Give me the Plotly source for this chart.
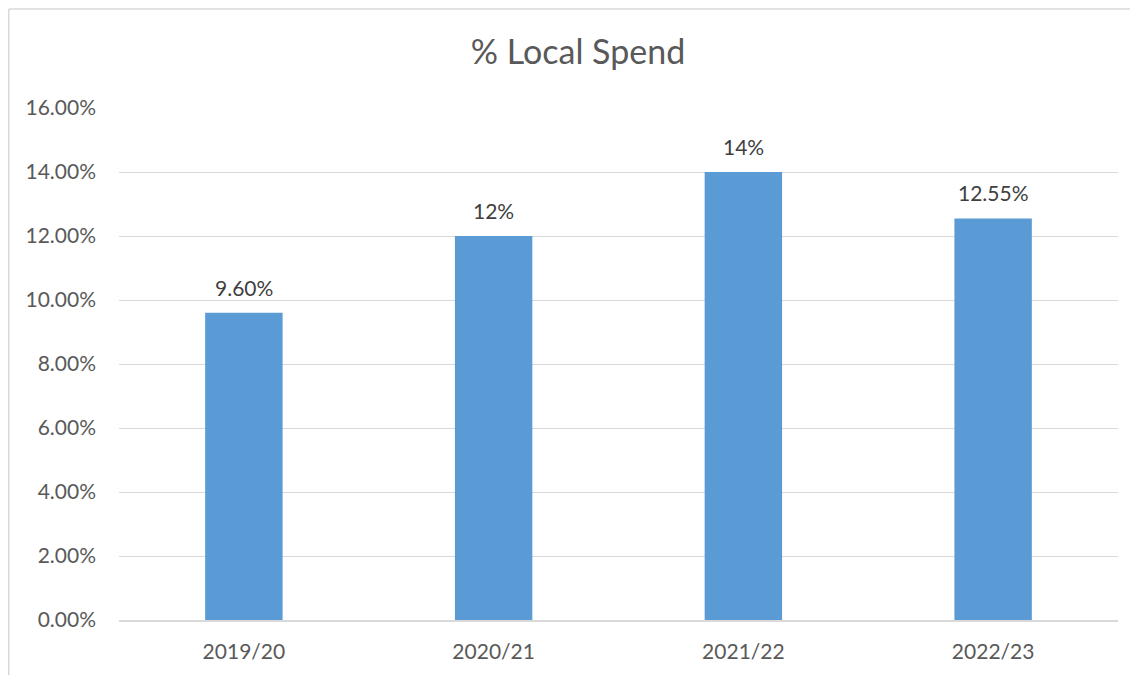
import plotly.graph_objects as go

categories = ["2019/20", "2020/21", "2021/22", "2022/23"]
values = [0.096, 0.12, 0.14, 0.1255]
labels = ["9.60%", "12%", "14%", "12.55%"]
y_ticks = [0, 0.02, 0.04, 0.06, 0.08, 0.10, 0.12, 0.14, 0.16]

FONT = "Lato"
fig = go.Figure(go.Bar(
    x=categories, y=values,
    marker=dict(color="#5b9bd5", line=dict(width=0)),
    width=0.31, hoverinfo="skip",
))

for c, v, t in zip(categories, values, labels):
    fig.add_annotation(x=c, y=v, text=t, showarrow=False, yanchor="bottom", yshift=11,
                       font=dict(family=FONT, size=21, color="#404040"))

# page body offset of 8px is compensated in the margins
W, H = 1138, 675
L, R, T, B = 111, 28, 100, 63
pw, ph = W - L - R, H - T - B

bx = (0.75 - L) / pw
by = 1 + (T - 1) / ph
border = dict(color="#d9d9d9", width=1.5)

fig.update_layout(
    width=W, height=H,
    margin=dict(l=L, r=R, t=T, b=B),
    paper_bgcolor="white", plot_bgcolor="white",
    showlegend=False,
    title=dict(text="% Local Spend", x=570 / W, xanchor="center", y=1 - 44 / H, yanchor="middle",
               font=dict(family=FONT, size=34, color="#595959")),
    xaxis=dict(showgrid=False, showline=True, linecolor="#d9d9d9", linewidth=1.5,
               ticks="", tickfont=dict(family=FONT, size=21, color="#595959"), ticklabelstandoff=12),
    yaxis=dict(range=[0, 0.16], tickvals=y_ticks, tickformat=".2%", showgrid=True,
               gridcolor="#d9d9d9", gridwidth=1.2, zeroline=False, showline=False, ticks="",
               tickfont=dict(family=FONT, size=21, color="#595959"), ticklabelstandoff=22),
    shapes=[
        dict(type="line", xref="paper", yref="paper", x0=bx, x1=bx, y0=-0.6, y1=by, line=border, layer="below"),
        dict(type="line", xref="paper", yref="paper", x0=bx, x1=1.6, y0=by, y1=by, line=border, layer="below"),
    ],
)

fig.write_html("out.html")
